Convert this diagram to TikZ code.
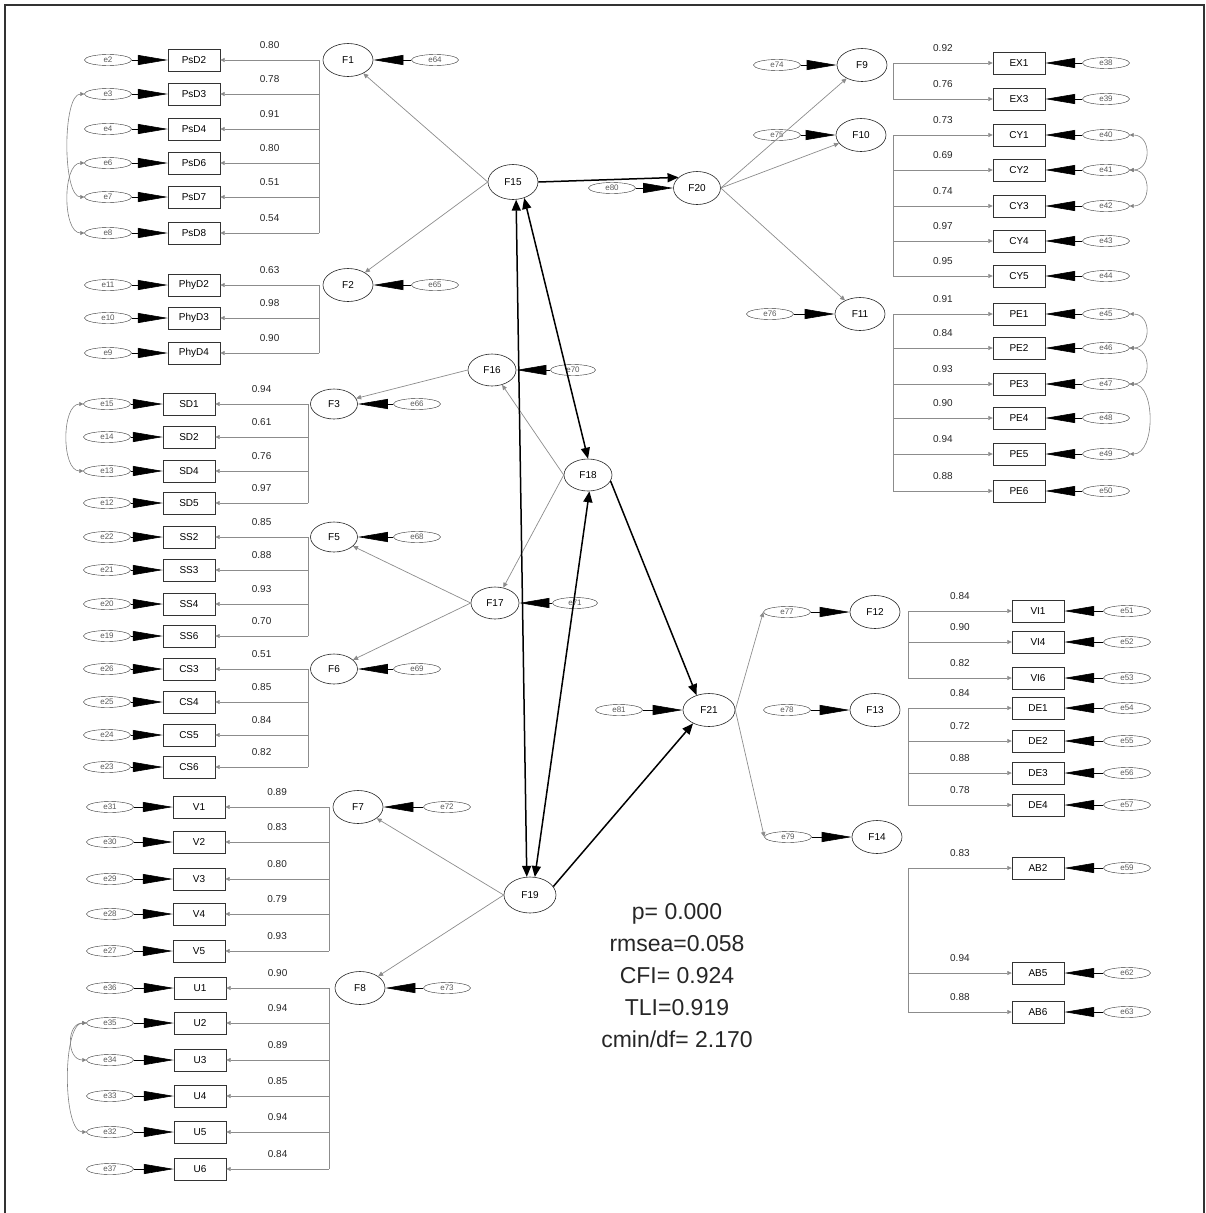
\documentclass[tikz,border=0pt]{standalone}
\usepackage{fontspec}
\setmainfont{Liberation Sans}
\usetikzlibrary{arrows.meta,shapes.geometric}

\tikzset{
  ind/.style={draw=black!80, minimum width=52pt, minimum height=22pt, inner sep=0pt, font=\fontsize{10}{12}\selectfont},
  err/.style={ellipse, draw=black!80, minimum width=47pt, minimum height=11pt, inner sep=0pt, font=\fontsize{8}{9}\selectfont, text=black!65},
  lat/.style={ellipse, draw=black!85, line width=0.6pt, minimum width=50pt, minimum height=33pt, inner sep=0pt, font=\fontsize{10}{12}\selectfont},
  lbl/.style={font=\fontsize{10}{12}\selectfont, text=black!85, inner sep=0pt},
  trunk/.style={draw=black!45, line width=0.7pt},
  load/.style={draw=black!45, line width=0.7pt, -{Triangle[length=4.5pt,width=4pt]}},
  reg/.style={draw=black!45, line width=0.7pt, -{Triangle[length=5pt,width=4.5pt]}},
  eline/.style={line width=0.6pt, -{Triangle[length=30pt,width=10pt]}},
  cov/.style={draw=black!50, line width=0.6pt, {Triangle[length=4pt,width=4pt]}-{Triangle[length=4pt,width=4pt]}},
  strong/.style={line width=1.5pt, -{Triangle[length=11pt,width=9pt]}},
  twoway/.style={line width=1.5pt, {Triangle[length=11pt,width=9pt]}-{Triangle[length=11pt,width=9pt]}},
  frame/.style={draw=black!80, line width=1.3pt},
  stats/.style={align=center, font=\fontsize{23}{32}\selectfont, text=black!85, inner sep=0pt}
}

% one block of indicators: box x, error x, trunk x, rows
\newcommand{\indgroup}[4]{%
  \foreach \nm/\en/\yy/\ld in {#4}{%
    \node[ind] (\nm) at (#1,\yy) {\nm};
    \node[err] (\en) at (#2,\yy) {\en};
    \coordinate (t\nm) at (#3,\yy);
    \draw[eline] (\en) -- (\nm);
    \draw[load] (t\nm) -- (\nm) node[lbl, midway, yshift=15pt] (l\nm) {\ld};
  }}

\begin{document}
\begin{tikzpicture}[x=1pt, y=-1pt]
    \useasboundingbox (0,0) rectangle (1206,1213);
    % frame
    \coordinate (fa) at (5,1213);
    \coordinate (fb) at (5,5);
    \coordinate (fc) at (1204,5);
    \coordinate (fd) at (1204,1213);
    \draw[frame] (fa) -- (fb) -- (fc) -- (fd);

    % left indicators
    \indgroup{194}{108}{319}{PsD2/e2/60/0.80, PsD3/e3/94/0.78, PsD4/e4/129/0.91,
      PsD6/e6/163/0.80, PsD7/e7/197/0.51, PsD8/e8/233/0.54}
    \indgroup{194}{108}{319}{PhyD2/e11/285/0.63, PhyD3/e10/318/0.98, PhyD4/e9/353/0.90}
    \indgroup{189}{107}{308}{SD1/e15/404/0.94, SD2/e14/437/0.61, SD4/e13/471/0.76, SD5/e12/503/0.97}
    \indgroup{189}{107}{308}{SS2/e22/537/0.85, SS3/e21/570/0.88, SS4/e20/604/0.93, SS6/e19/636/0.70}
    \indgroup{189}{107}{308}{CS3/e26/669/0.51, CS4/e25/702/0.85, CS5/e24/735/0.84, CS6/e23/767/0.82}
    \indgroup{199}{110}{329}{V1/e31/807/0.89, V2/e30/842/0.83, V3/e29/879/0.80, V4/e28/914/0.79, V5/e27/951/0.93}
    \indgroup{200}{110}{329}{U1/e36/988/0.90, U2/e35/1023/0.94, U3/e34/1060/0.89,
      U4/e33/1096/0.85, U5/e32/1132/0.94, U6/e37/1169/0.84}

    % right indicators
    \indgroup{1019}{1106}{893}{EX1/e38/63/0.92, EX3/e39/99/0.76}
    \indgroup{1019}{1106}{893}{CY1/e40/135/0.73, CY2/e41/170/0.69, CY3/e42/206/0.74,
      CY4/e43/241/0.97, CY5/e44/276/0.95}
    \indgroup{1019}{1106}{893}{PE1/e45/314/0.91, PE2/e46/348/0.84, PE3/e47/384/0.93,
      PE4/e48/418/0.90, PE5/e49/454/0.94, PE6/e50/491/0.88}
    \indgroup{1038}{1127}{908}{VI1/e51/611/0.84, VI4/e52/642/0.90, VI6/e53/678/0.82}
    \indgroup{1038}{1127}{908}{DE1/e54/708/0.84, DE2/e55/741/0.72, DE3/e56/773/0.88, DE4/e57/805/0.78}
    \indgroup{1038}{1127}{908}{AB2/e59/868/0.83, AB5/e62/973/0.94, AB6/e63/1012/0.88}

    % trunks
    \draw[trunk] (tPsD2) -- (tPsD8);
    \draw[trunk] (tPhyD2) -- (tPhyD4);
    \draw[trunk] (tSD1) -- (tSD5);
    \draw[trunk] (tSS2) -- (tSS6);
    \draw[trunk] (tCS3) -- (tCS6);
    \draw[trunk] (tV1) -- (tV5);
    \draw[trunk] (tU1) -- (tU6);
    \draw[trunk] (tEX1) -- (tEX3);
    \draw[trunk] (tCY1) -- (tCY5);
    \draw[trunk] (tPE1) -- (tPE6);
    \draw[trunk] (tVI1) -- (tVI6);
    \draw[trunk] (tDE1) -- (tDE4);
    \draw[trunk] (tAB2) -- (tAB6);

    % error covariances
    \draw[cov] (e3.west) .. controls +(-22,0) and +(-22,0) .. (e7.west);
    \draw[cov] (e6.west) .. controls +(-22,0) and +(-22,0) .. (e8.west);
    \draw[cov] (e15.west) .. controls +(-22,0) and +(-22,0) .. (e13.west);
    \draw[cov] (e35.west) .. controls +(-20,0) and +(-20,0) .. (e34.west);
    \draw[cov] (e35.west) .. controls +(-24,0) and +(-24,0) .. (e32.west);
    \draw[cov] (e40.east) .. controls +(22,0) and +(22,0) .. (e41.east);
    \draw[cov] (e41.east) .. controls +(22,0) and +(22,0) .. (e42.east);
    \draw[cov] (e45.east) .. controls +(22,0) and +(22,0) .. (e46.east);
    \draw[cov] (e46.east) .. controls +(22,0) and +(22,0) .. (e47.east);
    \draw[cov] (e47.east) .. controls +(26,0) and +(26,0) .. (e49.east);

    % first-order factors
    \node[lat] (F1) at (348,60) {F1};
    \node[err] (e64) at (435,60) {e64};
    \node[lat] (F2) at (348,285) {F2};
    \node[err] (e65) at (435,285) {e65};
    \node[lat, minimum width=47pt, minimum height=30pt] (F3) at (334,404) {F3};
    \node[err] (e66) at (417,404) {e66};
    \node[lat, minimum width=47pt, minimum height=30pt] (F5) at (334,537) {F5};
    \node[err] (e68) at (417,537) {e68};
    \node[lat, minimum width=47pt, minimum height=30pt] (F6) at (334,669) {F6};
    \node[err] (e69) at (417,669) {e69};
    \node[lat] (F7) at (358,807) {F7};
    \node[err] (e72) at (447,807) {e72};
    \node[lat] (F8) at (360,988) {F8};
    \node[err] (e73) at (447,988) {e73};
    \node[lat] (F9) at (862,65) {F9};
    \node[err] (e74) at (777,65) {e74};
    \node[lat] (F10) at (861,135) {F10};
    \node[err] (e75) at (777,135) {e75};
    \node[lat] (F11) at (860,314) {F11};
    \node[err] (e76) at (770,314) {e76};
    \node[lat] (F12) at (875,612) {F12};
    \node[err] (e77) at (787,612) {e77};
    \node[lat] (F13) at (875,710) {F13};
    \node[err] (e78) at (787,710) {e78};
    \node[lat] (F14) at (877,837) {F14};
    \node[err] (e79) at (788,837) {e79};
    \foreach \ff/\ee in {F1/e64, F2/e65, F3/e66, F5/e68, F6/e69, F7/e72, F8/e73,
      F9/e74, F10/e75, F11/e76, F12/e77, F13/e78, F14/e79}
      \draw[eline] (\ee) -- (\ff);

    % second-order factors
    \node[lat, minimum height=35pt] (F15) at (513,182) {F15};
    \node[lat, minimum width=48pt, minimum height=32pt] (F16) at (492,370) {F16};
    \node[err, minimum width=45pt] (e70) at (573,370) {e70};
    \node[lat, minimum width=48pt, minimum height=32pt] (F17) at (495,603) {F17};
    \node[err, minimum width=45pt] (e71) at (575,603) {e71};
    \node[lat, minimum width=48pt, minimum height=32pt] (F18) at (588,475) {F18};
    \node[lat, minimum width=52pt, minimum height=36pt] (F19) at (530,895) {F19};
    \node[lat, minimum width=47pt] (F20) at (697,188) {F20};
    \node[err] (e80) at (612,188) {e80};
    \node[lat, minimum width=52pt] (F21) at (709,710) {F21};
    \node[err] (e81) at (619,710) {e81};
    \draw[eline] (e70) -- (F16);
    \draw[eline] (e71) -- (F17);
    \draw[eline] (e80) -- (F20);
    \draw[eline] (e81) -- (F21);

    % thin paths
    \draw[reg] (F15.west) -- (F1);
    \draw[reg] (F15.west) -- (F2);
    \draw[reg] (F16.west) -- (F3);
    \draw[reg] (F17.west) -- (F5);
    \draw[reg] (F17.west) -- (F6);
    \draw[reg] (F18.west) -- (F16);
    \draw[reg] (F18.west) -- (F17);
    \draw[reg] (F19.west) -- (F7);
    \draw[reg] (F19.west) -- (F8);
    \draw[reg] (F20.east) -- (F9);
    \draw[reg] (F20.east) -- (F10);
    \draw[reg] (F20.east) -- (F11);
    \draw[reg] (F21.east) -- (e77.west);
    \draw[reg] (F21.east) -- (e79.west);

    % structural paths
    \draw[strong] (F15.east) -- (F20.150);
    \draw[twoway] (F15.-80) -- (F19.100);
    \draw[twoway] (F15.-55) -- (F18.north);
    \draw[twoway] (F18.-85) -- (F19.75);
    \draw[strong] (F18.-15) -- (F21.130);
    \draw[strong] (F19.20) -- (F21.220);

    % fit indices
    \node[stats] (fit) at (677,976) {p= 0.000\\ rmsea=0.058\\ CFI= 0.924\\ TLI=0.919\\ cmin/df= 2.170};
\end{tikzpicture}
\end{document}
